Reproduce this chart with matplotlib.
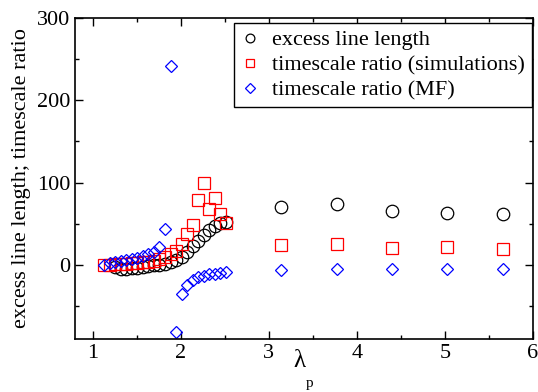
import numpy as np
import matplotlib
matplotlib.use("Agg")
import matplotlib.pyplot as plt
from matplotlib.ticker import MultipleLocator

plt.rcParams['font.family'] = ['Liberation Serif', 'DejaVu Serif']
plt.rcParams['font.size'] = 16

# lambda_p sampled at k*pi/50
k_line = np.r_[20:41, 50, 60, 70, 80, 90]
k_ratio = np.r_[18:41, 50, 60, 70, 80, 90]
lam_line = k_line * np.pi / 50
lam_ratio = k_ratio * np.pi / 50

excess_length = [-3, -5, -5, -4, -3.5, -2.5, -1.5, 0, 0.5, 1, 3, 6, 10, 16, 23,
                 29, 36, 42, 47, 51, 52,
                 70.5, 74.6, 65.2, 63.2, 61.6]
ratio_sim = [0, 0.5, 1, 1, 1.5, 2, 2.5, 3, 4, 5, 7, 10, 13, 17, 26, 37, 49,
             79, 99, 68, 81, 62, 51,
             24, 26, 20.7, 21.9, 19]
ratio_mf = [0.5, 2, 3.5, 5, 6, 7.5, 9, 11, 13, 16, 22, 44, 242, -81,
            -35, -24, -18, -15, -13, -11.5, -10.5, -9.5, -8.5,
            -6.4, -5.2, -4.4, -4.4, -4.4]

fig = plt.figure(figsize=(5.38, 3.92), dpi=100)
ax = fig.add_axes([75/538, 1 - 339/392, 458/538, 321/392])

ax.plot(lam_line, excess_length, 'o', mfc='none', mec='black', ms=9, mew=0.9,
        label='excess line length')
ax.plot(lam_ratio, ratio_sim, 's', mfc='none', mec='red', ms=8, mew=0.9,
        label='timescale ratio (simulations)')
ax.plot(lam_ratio, ratio_mf, 'D', mfc='none', mec='blue', ms=6.6, mew=0.9,
        label='timescale ratio (MF)')

ax.set_xlim(0.8, 6)
ax.set_ylim(-90, 300)
ax.set_xticks([1, 2, 3, 4, 5, 6])
ax.set_yticks([0, 100, 200, 300])
ax.xaxis.set_minor_locator(MultipleLocator(0.5))
ax.yaxis.set_minor_locator(MultipleLocator(50))
ax.tick_params(which='both', direction='in', top=True, right=True, width=1.0)
ax.tick_params(which='major', length=6)
ax.tick_params(which='minor', length=3)
for s in ax.spines.values():
    s.set_linewidth(1.2)

# lambda with a low-set subscript p
ax.set_xlabel('λ', fontsize=18, labelpad=-9)
ax.xaxis.label.set_x(0.49)
fig.text(0.576, 0.004, 'p', fontsize=11, ha='center', va='bottom')
ax.set_ylabel('excess line length; timescale ratio')

leg = ax.legend(loc='upper right', bbox_to_anchor=(0.997, 0.984), borderaxespad=0,
                numpoints=1, markerscale=0.7, handlelength=0.8, handletextpad=0.6,
                borderpad=0.3, labelspacing=0.2, fancybox=False, framealpha=1)
leg.get_frame().set_edgecolor('black')
leg.get_frame().set_linewidth(1.0)

fig.savefig('out.png', dpi=100)
